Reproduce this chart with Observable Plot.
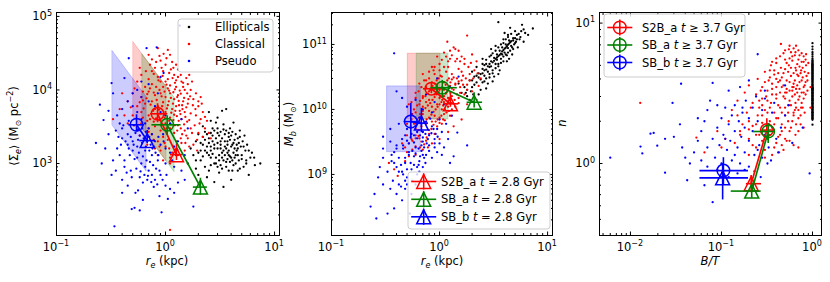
<!DOCTYPE html>
<html><head><meta charset="utf-8">
<script src="https://cdn.jsdelivr.net/npm/d3@7"></script>
<script src="https://cdn.jsdelivr.net/npm/@observablehq/plot@0.6"></script>
<style>
body{margin:0;background:#fff;}
#fig{position:relative;width:830px;height:282px;}
#fig svg{position:absolute;top:0;overflow:visible;}
</style></head><body><div id="fig"></div>
<script>
// ---------------- DATA ----------------
const modelNames = ["S2B_a", "SB_a", "SB_b"];
const modelColors = ["#ff0000", "#008000", "#0000ff"];
const popNames = ["Ellipticals", "Classical", "Pseudo"];
const popColors = ["#000000", "#ff0000", "#0000ff"];

// shaded regions (r_e range, M_b range) per model
const regionReLo = [0.508, 0.615, 0.327];
const regionReHi = [1.02, 1.21, 0.67];
const regionMLo = [7.0e9, 7.0e9, 2.2e9];
const regionMHi = [7.2e10, 7.2e10, 2.26e10];

// Panel 1: r_e vs <Sigma_e>
const p1EllA = [[2.0,2500],[2.2,1800],[2.5,2200],[2.7,3000],[3.0,2600],[3.2,2000],[3.5,1700],[3.8,2300],[4.2,1900],[4.5,1500],[2.4,1400],[2.8,1600],[3.1,1300],[3.4,1100],[3.7,1400],[4.0,1200],[4.4,1000],[5.0,1300],[5.5,1100],[6.2,1400],[7.4,1000],[6.6,950],[2.1,1100],[2.3,900],[2.6,1200],[2.9,1000],[3.3,850],[3.6,900],[4.1,800],[4.8,850],[5.2,900],[2.0,700],[2.4,650],[3.4,480],[2.8,560],[4.0,600],[5.8,700],[1.8,1300],[1.9,2000],[2.2,3200],[2.6,3800],[3.0,4200],[3.6,5500],[3.3,5200],[2.5,5000],[4.2,3600],[4.8,2800],[5.3,2400],[5.6,1800],[4.6,2200],[3.9,3000],[3.4,3400],[2.9,3600],[2.3,2700],[1.7,1600],[1.6,1000],[2.1,1500],[2.7,2000],[3.2,1600],[3.7,2000],[4.3,1600],[4.9,1700],[5.1,2000],[3.0,1900],[3.5,2500],[4.1,2700],[2.6,1700],[3.8,1300],[4.6,1300],[5.4,1500],[6.0,1200],[3.3,1200],[2.2,1250],[1.9,850],[2.5,800],[3.1,750],[3.9,1050],[4.5,1800]];
const p1EllB = [[2.3,2100],[2.5,1900],[2.7,2400],[2.9,2200],[3.1,2400],[3.3,2200],[3.5,2000],[3.7,1800],[3.9,2100],[4.1,1800],[4.3,2100],[4.7,1900],[2.4,1700],[2.6,1500],[2.8,1800],[3.0,1600],[3.2,1800],[3.4,1500],[3.6,1600],[3.8,1500],[4.0,1700],[4.2,1400],[4.4,1300],[4.6,1600],[2.5,1300],[2.7,1350],[2.9,1200],[3.1,1100],[3.3,1400],[3.5,1300],[3.7,1150],[3.9,1250],[4.1,1100],[4.3,1200],[4.7,1100],[5.0,1150],[2.3,1500],[2.1,1900],[2.0,1400],[1.9,1100],[2.2,2300],[2.4,2500],[2.6,2600],[2.8,2800],[3.0,3000],[3.2,2700],[3.4,2900],[3.6,2800],[3.8,2600],[4.0,2400],[4.4,2500],[4.8,2300],[5.2,1700],[5.8,1500],[6.5,1200],[2.8,1000],[3.0,900],[3.6,1050],[4.2,950],[3.2,950],[2.6,950],[5.5,1000],[3.8,800],[4.6,800]];
const p1ClaA = [[0.75,12000],[0.85,15000],[0.95,18000],[1.05,14000],[1.2,16000],[1.3,19000],[0.8,20000],[0.9,25000],[1.0,22000],[1.15,24000],[1.4,13000],[1.6,12000],[0.7,30000],[0.85,37000],[1.1,30000],[1.25,11000],[0.65,11000],[0.55,13000],[1.75,13000],[0.95,11000],[1.05,10500],
[0.5,9000],[0.6,8000],[0.7,9500],[0.8,8500],[0.9,9000],[1.0,8000],[1.1,9000],[1.2,7500],[1.3,8500],[1.45,7000],[1.6,6500],[1.8,7500],[2.0,6000],[0.55,6000],[0.65,6500],[0.75,7000],[0.85,6000],[0.95,6800],[1.05,6200],[1.15,5500],[1.25,6000],[1.35,5200],[1.5,5000],[1.7,4800],[1.9,4500],[2.2,5000],[0.6,5000],[0.7,4500],[0.8,5500],[0.9,4800],[1.0,5000],[1.1,4200],[1.2,4600],[1.4,4000],[0.5,4500],[0.45,7000],[0.4,9000],[0.38,5500],
[0.6,3500],[0.7,3000],[0.8,3200],[0.9,2800],[1.0,3500],[1.1,3000],[1.2,2600],[1.3,3300],[1.5,2800],[1.7,3000],[2.0,2600],[2.3,3000],[0.65,2200],[0.75,2500],[0.85,2000],[0.95,2300],[1.05,2100],[1.25,2000],[1.4,1900],[1.6,2200],[1.8,1800],[0.8,1600],[0.9,1500],[1.0,1700],[1.15,1400],[1.3,1300],[1.5,1500],[0.55,2800],[0.45,3500],[0.33,4000],[1.1,1200],[0.95,1100],[2.6,2200],[2.1,4000],[1.65,3900],[1.1,125],
[1.35,9800],[1.5,10000],[0.6,16000],[0.75,18000],[0.9,13000],[1.25,13500],[1.1,11500],[1.9,9000],[2.1,8000],[1.7,10000]];
const p1ClaB = [[0.62,7200],[0.68,8800],[0.72,10500],[0.78,9200],[0.82,11000],[0.88,10000],[0.92,8200],[0.98,9500],[1.02,11800],[1.08,9800],[1.12,7800],[1.18,9300],[1.22,10200],[1.28,8000],[1.32,7100],[1.38,8900],[1.42,6200],[1.48,7800],[1.55,5800],[1.62,7500],
[0.58,6800],[0.63,5600],[0.67,7700],[0.73,6300],[0.77,5200],[0.83,7300],[0.87,5400],[0.93,6000],[0.97,4600],[1.03,5600],[1.07,7000],[1.13,4900],[1.17,6500],[1.23,5200],[1.27,4400],[1.33,6200],[1.37,4700],[1.43,5500],[1.52,4300],[1.58,3700],
[0.62,4200],[0.68,3800],[0.72,4000],[0.78,3700],[0.82,4100],[0.88,3900],[0.92,3300],[0.98,4200],[1.02,3000],[1.08,3800],[1.12,3400],[1.18,3900],[1.22,3300],[1.28,2800],[1.32,3800],[1.38,3000],[1.42,2500],[1.48,3400],[1.55,2400],[1.75,2600],
[0.7,14000],[0.78,16500],[0.86,13500],[0.94,15500],[1.0,13000],[1.08,17000],[1.16,14500],[1.22,12500],[1.3,15000],[1.45,11000],[0.66,18000],[0.72,22000],[0.82,24000],[0.92,20000],[1.02,27000],[0.96,31000],[1.18,20000],[1.38,16000],[0.58,20000],[0.62,9500],
[0.52,10500],[0.48,5800],[0.42,4500],[0.52,3300],[0.58,2400],[0.68,1800],[0.78,2100],[0.88,1700],[0.98,1900],[1.08,1600],[1.18,1700],[1.28,1550],[1.38,2200],[1.52,1900],[1.65,1700],[1.95,2100],[2.2,2300],[1.85,3300],[2.05,3500],[2.4,3800],
[1.58,9000],[1.68,8200],[1.78,6200],[1.88,5500],[2.0,7000],[2.15,6500],[1.45,12500],[1.55,14500],[1.65,16000],[1.25,22000],[1.12,19000],[0.75,26000],[0.88,29000],[1.05,35000],[2.3,4300],[2.5,2600],[1.95,1500],[1.1,1000],[0.85,1300],[0.7,2700]];
const p1PseA = [[0.23,1900],[0.26,1000],[0.25,6300],[0.27,3900],[0.32,12400],[0.42,14500],[0.46,27000],[0.67,37000],[0.83,38000],[1.35,75000],[0.96,17000],[0.9,15000],
[0.34,140],[0.49,240],[0.52,250],[0.58,230],[0.92,217],[1.8,260],[0.56,430],[0.53,400],[0.62,550],[0.45,500],[0.4,600],[0.35,800],[0.33,1100],[0.38,1300],[0.3,2500],[0.35,2800],[0.4,2200],[0.45,1800],[0.5,1500],[0.55,1200],[0.6,1000],[0.65,900],[0.7,800],[0.75,700],[0.8,600],[0.9,700],[1.0,500],[1.1,450],[1.2,400],[1.3,550],[1.5,600],[1.4,800],[1.2,900],[1.0,1000],[0.85,1100],[0.75,1300],[0.65,1500],[0.55,1700],[0.5,2000],[0.45,2500],[0.4,3000],[0.38,3500],[0.36,4500],[0.4,5500],[0.45,7000],[0.5,6000],[0.55,5000],[0.6,4000],[0.65,3500],[0.7,3000],[0.75,2500],[0.8,2000],[0.9,1800],[1.0,1600],[1.1,1400],[1.2,1700],[1.3,2000],[1.5,1300],[0.5,9000],[0.55,10000],[0.6,8000],[0.7,7000],[0.8,6000],[0.9,5000],[1.0,4500],[1.1,3500],[0.7,12000],[0.6,13000],[0.85,9000],[0.3,5200],[0.33,9000],[0.28,1600],[0.32,700],[0.42,900],[0.48,800],[0.58,650],[0.68,600],[0.78,480],[0.88,360],[1.05,330],[0.62,320],[0.4,400],[0.36,1600],[1.6,3000],[1.4,4000],[0.95,2500]];
const p1PseB = [[0.42,1100],[0.47,1300],[0.52,1150],[0.57,1400],[0.62,1250],[0.67,1100],[0.72,1050],[0.77,950],[0.82,850],[0.46,1600],[0.51,1800],[0.56,2100],[0.61,1900],[0.66,1700],[0.71,1500],[0.76,1600],[0.81,1400],[0.86,1300],[0.43,2000],[0.48,2300],[0.53,2600],[0.58,2400],[0.63,2200],[0.68,2000],[0.73,1800],[0.78,1700],[0.44,750],[0.49,650],[0.54,850],[0.59,780],[0.64,700],[0.69,680],[0.74,560],[0.84,520],[0.94,600],[1.02,700],[0.39,1800],[0.37,2300],[0.41,3300],[0.46,3800],[0.51,3300],[0.56,2900],[0.61,3000],[0.66,2700],[0.71,2300],[0.86,2300],[0.96,2000],[1.15,1100],[1.25,1300],[0.88,800]];

// Panel 2: r_e vs M_b
const p2EllA = [[1.6,1.8e10],[1.7,2.2e10],[1.8,1.6e10],[1.9,2.8e10],[2.0,2.2e10],[2.1,3.2e10],[2.2,2.6e10],[2.3,3.6e10],[2.4,2.9e10],[2.5,4.2e10],[2.6,3.3e10],[2.7,5e10],[2.8,3.8e10],[2.9,4.5e10],[3.0,5.5e10],[3.1,4e10],[3.2,6.2e10],[3.3,5e10],[3.4,7e10],[3.5,4.6e10],[3.6,8e10],[3.7,6e10],[3.8,9e10],[3.9,5.5e10],[4.0,7.5e10],[4.1,1e11],[4.2,6.8e10],[4.3,8.8e10],[4.4,1.15e11],[4.6,9.5e10],[4.8,1.25e11],[5.0,1.05e11],[5.2,1.4e11],[5.5,1.2e11],[5.8,2e11],[6.2,1.5e11],[6.6,1.4e11],[7.3,1.76e11],[3.5,2.2e11],[4.5,1.8e11],[4.0,1.5e11],[3.0,8.5e10],[2.5,6e10],[2.2,4.5e10],[1.9,1.4e10],[2.4,2e10],[2.8,2.5e10],[3.2,3.2e10],[3.6,4e10],[4.2,5.5e10],[4.7,7e10],[5.3,9e10],[1.5,2.5e10],[2.0,3.8e10],[2.6,4.8e10],[3.3,9.5e10],[3.9,1.2e11],[5.0,1.6e11],[6.0,1.1e11],[2.3,1.7e10],[2.7,2.1e10],[3.1,2.7e10],[3.5,3.5e10],[4.4,6e10],[3.0,6.8e10],[3.4,5.8e10],[2.9,3.1e10],[2.1,2.4e10],[1.8,2e10],[4.8,8.5e10],[5.6,1.3e11],[3.8,7e10],[4.3,1.3e11],[2.6,2.7e10]];
const p2EllB = [[2.3,3.1e10],[2.4,3.5e10],[2.5,3.6e10],[2.6,4e10],[2.7,4.1e10],[2.8,4.6e10],[2.9,5e10],[3.0,4.6e10],[3.1,5.3e10],[3.2,5.6e10],[3.3,6e10],[3.4,6.3e10],[3.5,6.6e10],[3.6,6.9e10],[3.7,7.2e10],[3.8,7.8e10],[3.9,8.2e10],[4.0,8.6e10],[4.1,8.9e10],[4.2,9.4e10],[4.3,9.9e10],[4.4,1.03e11],[4.5,1.08e11],[4.6,1.12e11],[4.8,1.15e11],[5.0,1.25e11],[5.2,1.2e11],[5.4,1.45e11],[5.7,1.6e11],[6.0,1.7e11],
[2.5,5e10],[2.7,5.8e10],[2.9,6.5e10],[3.1,7.3e10],[3.3,8e10],[3.5,9e10],[3.7,1e11],[3.9,1.05e11],[4.1,1.2e11],[4.3,1.4e11],[2.5,2.6e10],[2.7,3e10],[2.9,3.5e10],[3.1,3.6e10],[3.3,4.3e10],[3.5,5e10],[3.7,5.2e10],[3.9,6.5e10],[4.1,7e10],[4.3,7.5e10],[4.5,8e10],[4.7,9e10],[4.9,1e11],[5.1,1.1e11],[2.0,2.8e10],[2.2,3.3e10],[1.95,1.9e10],[1.75,1.8e10],[2.05,1.7e10],[4.6,1.45e11]];
const p2ClaA = [[1.8,1.37e11],[1.18,1.1e11],[1.35,9e10],[1.5,8e10],[1.1,7.5e10],[0.95,6.5e10],[1.25,6e10],[1.6,6.5e10],[2.0,7e10],[1.4,5.5e10],[1.0,5e10],[0.85,4.5e10],[1.2,4.5e10],[1.7,5e10],[2.2,5.5e10],[1.5,4.2e10],
[0.7,3.5e10],[0.8,3e10],[0.9,3.5e10],[1.05,3.2e10],[1.15,3.8e10],[1.3,3.5e10],[1.45,3e10],[1.65,3.3e10],[1.9,3.5e10],[2.1,4e10],[0.65,2.5e10],[0.75,2.2e10],[0.85,2.6e10],[0.95,2.4e10],[1.1,2.6e10],[1.25,2.3e10],[1.4,2.5e10],[1.55,2.2e10],[1.8,2.4e10],[2.4,3e10],[0.6,1.8e10],[0.7,1.6e10],[0.8,1.9e10],[0.9,1.7e10],[1.0,1.5e10],[1.15,1.8e10],[1.3,1.6e10],[1.5,1.5e10],[1.7,1.7e10],[2.0,1.9e10],
[0.55,1.3e10],[0.65,1.2e10],[0.75,1.3e10],[0.85,1.1e10],[0.95,1.2e10],[1.05,1e10],[1.2,1.1e10],[1.4,1.1e10],[0.6,9e9],[0.7,8.5e9],[0.8,9.5e9],[0.9,8e9],[1.0,7.5e9],[1.1,8.5e9],[1.25,8e9],[0.55,7e9],[0.65,6.5e9],[0.75,6e9],[0.85,6.5e9],[0.95,5.5e9],[1.05,6e9],[0.6,5e9],[0.7,4.5e9],[0.8,4.8e9],[0.9,4.2e9],[0.5,4e9],[0.55,3.5e9],[0.65,3.6e9],[0.75,3.3e9],[0.85,3e9],[0.6,2.7e9],[0.7,2.4e9],[0.5,2.2e9],[0.45,3e9],[0.41,9.5e8],[0.34,1.5e9],[0.38,1.2e9],[0.48,1.6e9],[1.0,3.5e9],[1.2,4.5e9],[1.35,5.5e9],[1.6,7e9],[1.8,1.2e10],[2.2,1.4e10],
[0.8,1.4e10],[0.9,2.1e10],[1.0,2e10],[1.1,1.3e10],[1.2,1.5e10],[0.7,1.1e10],[0.65,7.5e9],[0.75,2.8e10],[1.35,2e10],[1.6,2.8e10]];
const p2ClaB = [[0.58,1e10],[0.62,1.15e10],[0.66,1.35e10],[0.7,1.5e10],[0.74,1.6e10],[0.78,1.75e10],[0.82,2e10],[0.86,2.3e10],[0.9,2.5e10],[0.94,2.8e10],[0.98,3e10],[1.02,3.3e10],[1.06,2.2e10],[1.1,2e10],[1.14,2.4e10],[1.18,2.8e10],[1.22,3e10],[1.26,2.6e10],[1.3,2.9e10],[1.35,3.1e10],
[0.58,6e9],[0.62,7e9],[0.66,8.5e9],[0.7,9.5e9],[0.74,1.05e10],[0.78,1.15e10],[0.82,1.25e10],[0.86,1.4e10],[0.9,1.55e10],[0.94,1.7e10],[0.98,1.85e10],[1.02,1.6e10],[1.06,1.4e10],[1.1,1.6e10],[1.14,1.75e10],[1.18,1.9e10],[1.22,2.1e10],[1.26,1.8e10],[1.3,2.1e10],[1.4,2.4e10],
[0.6,4e9],[0.64,4.8e9],[0.68,5.5e9],[0.72,6.3e9],[0.76,7e9],[0.8,7.5e9],[0.84,8.3e9],[0.88,9.2e9],[0.92,1e10],[0.96,1.1e10],[1.0,1.2e10],[1.04,1.3e10],[1.08,1.15e10],[1.12,1e10],[1.16,1.2e10],[1.2,1.3e10],[1.25,1.4e10],[1.3,1.25e10],[1.38,1.4e10],[1.45,1.7e10],
[0.52,3e9],[0.56,3.3e9],[0.6,3.6e9],[0.64,3.9e9],[0.68,3.2e9],[0.72,2.9e9],[0.76,3.7e9],[0.8,4.2e9],[0.84,5e9],[0.88,5.8e9],[0.92,6.5e9],[0.96,7e9],[1.0,6.2e9],[1.04,8e9],[1.08,7e9],[1.12,6.8e9],[1.16,9e9],[1.22,9.5e9],[1.3,1e10],[1.5,1.25e10],
[0.9,4.5e10],[1.0,4e10],[1.1,4.5e10],[1.2,5.5e10],[1.3,6.8e10],[1.45,6e10],[1.55,5.5e10],[1.7,6e10],[1.85,4.5e10],[1.95,5.2e10],[1.6,3.8e10],[1.75,3e10],[1.9,2.8e10],[2.05,3e10],[2.25,3.6e10],[1.5,2.7e10],[1.65,2.4e10],[1.8,2e10],[1.55,1.8e10],[2.3,2.3e10],
[0.48,2.6e9],[0.52,1.9e9],[0.56,2.4e9],[0.6,2e9],[0.66,2.6e9],[0.78,2.6e9],[0.54,5.5e9],[0.5,6e9],[0.56,8.5e9],[0.52,1.2e10],[0.6,1.5e10],[0.64,1.9e10],[0.68,2.2e10],[0.72,2.8e10],[0.8,3.8e10],[0.88,4e10],[1.05,5.8e10],[1.15,6.5e10],[1.4,8.5e10],[1.25,8e10]];
const p2PseA = [[0.38,7.3e10],[0.23,3.2e8],[0.26,2.1e8],[0.3,1.8e9],[1.8,2.8e9],[1.35,1.9e9],[1.46,4.4e9],[0.33,2.5e8],[0.38,3e8],[0.53,2.5e8],[0.45,4e8],[0.4,5e8],[0.35,6e8],[0.3,7e8],[0.27,9e8],[0.33,1.1e9],[0.37,8e8],[0.42,7e8],[0.48,6e8],[0.55,5e8],[0.6,7e8],[0.5,9e8],[0.45,1.1e9],[0.4,1.3e9],[0.36,1.6e9],[0.42,1.8e9],[0.48,1.5e9],[0.55,1.2e9],[0.62,1e9],[0.7,1.3e9],[0.65,1.6e9],[0.58,1.9e9],[0.52,2.2e9],[0.46,2.5e9],[0.4,2.8e9],[0.35,3.2e9],[0.3,3.8e9],[0.45,3.5e9],[0.52,3e9],[0.6,2.6e9],[0.68,2.3e9],[0.75,2e9],[0.85,1.8e9],[0.95,2.2e9],[0.8,2.8e9],[0.7,3.2e9],[0.62,3.6e9],[0.55,4.2e9],[0.5,5e9],[0.6,5.5e9],[0.7,4.5e9],[0.8,4e9],[0.9,3.5e9],[1.0,3e9],[1.1,2.6e9],[1.2,3.5e9],[1.05,4.5e9],[0.95,5e9],[0.85,5.5e9],[0.75,6.5e9],[0.65,7.5e9],[0.55,8.5e9],[0.5,1.1e10],[0.7,1e10],[0.85,9e9],[1.0,7e9],[1.15,6e9],[1.3,8e9],[0.45,1.5e10],[0.6,1.4e10],[0.75,1.7e10],[0.9,1.3e10],[1.1,1.2e10],[1.25,2.2e10],[1.5,3.2e10],[0.95,3e10],[0.4,1.9e10],[0.42,6e9],[0.35,5e9],[0.3,2.5e9],[0.28,1.3e9],[0.25,5e8],[0.5,7e8],[0.65,1.1e9],[0.72,1.8e9],[0.9,2.6e9],[1.25,1.5e9],[0.58,3.1e9],[0.48,4e9],[0.78,3.5e9],[0.38,2.2e9],[0.68,6e9],[0.82,7.2e9]];
const p2PseB = [[0.44,1.4e9],[0.48,1.8e9],[0.52,2e9],[0.56,2.3e9],[0.6,2.1e9],[0.64,2.5e9],[0.68,2.8e9],[0.72,2.6e9],[0.76,3e9],[0.46,2.8e9],[0.5,3.3e9],[0.54,3.7e9],[0.58,4e9],[0.62,4.5e9],[0.66,4e9],[0.7,3.7e9],[0.74,4.2e9],[0.84,4.3e9],[0.88,5e9],[0.42,1.1e9],[0.46,1e9],[0.5,1.2e9],[0.54,1.5e9],[0.58,1.4e9],[0.62,1.3e9],[0.66,1.9e9],[0.7,2e9],[0.8,2.3e9],[0.9,3e9],[0.96,3.8e9],[0.38,1.5e9],[0.36,2e9],[0.4,2.5e9],[0.44,6.5e8],[0.48,8e8],[0.56,8e8],[0.64,1.4e9],[0.74,1.5e9],[1.05,2e9],[0.92,4.2e9]];

// Panel 3: B/T vs n
const ellipticalBT = 1;
const p3EllN = [1.89,2.05,2.08,2.1,2.12,2.15,2.18,2.2,2.22,2.25,2.28,2.3,2.32,2.33,2.38,2.4,2.42,2.45,2.48,2.5,2.52,2.55,2.58,2.62,2.65,2.68,2.7,2.72,2.78,2.8,2.82,2.85,2.88,2.9,2.92,2.97,3.0,3.02,3.05,3.08,3.12,3.15,3.18,3.2,3.22,3.27,3.3,3.32,3.36,3.38,3.4,3.42,3.45,3.48,3.5,3.55,3.6,3.65,3.68,3.75,3.8,3.85,3.9,3.95,4.0,4.05,4.1,4.15,4.2,4.25,4.3,4.35,4.4,4.45,4.5,4.55,4.6,4.65,4.7,4.75,4.8,4.85,4.9,4.95,5.0,5.05,5.1,5.15,5.25,5.3,5.4,5.45,5.6,5.8,6.0,6.2,6.5,6.8,7.2];
const p3ClaA = [[0.45,7.1],[0.55,6.5],[0.65,6.2],[0.6,5.8],[0.7,5.5],[0.8,5.8],[0.5,5.5],[0.4,5.2],[0.35,5],[0.45,4.8],[0.55,5],[0.65,4.8],[0.75,4.6],[0.85,5],[0.3,4.5],[0.38,4.3],[0.48,4.4],[0.58,4.2],[0.68,4.3],[0.78,4.1],[0.9,4.4],[0.25,4],[0.33,3.9],[0.42,3.8],[0.52,3.9],[0.62,3.7],[0.72,3.8],[0.82,3.6],[0.2,3.6],[0.28,3.5],[0.36,3.4],[0.46,3.5],[0.56,3.3],[0.66,3.4],[0.76,3.2],[0.88,3.3],[0.18,3.2],[0.24,3.1],[0.31,3],[0.4,3.1],[0.5,2.9],[0.6,3],[0.7,2.85],[0.8,2.9],[0.15,2.8],[0.22,2.7],[0.28,2.6],[0.35,2.7],[0.44,2.5],[0.54,2.6],[0.64,2.4],[0.75,2.5],[0.13,2.4],[0.19,2.3],[0.25,2.2],[0.32,2.3],[0.4,2.1],[0.5,2.2],[0.6,2],[0.7,2.1],[0.12,2],[0.17,1.9],[0.22,1.85],[0.28,1.95],[0.36,1.8],[0.46,1.9],[0.56,1.7],[0.16,1.6],[0.2,1.5],[0.26,1.6],[0.32,1.5],[0.42,1.55],[0.52,1.45],[0.14,1.4],[0.24,1.3],[0.38,1.3],[0.48,1.25],[0.11,1.5],[0.09,1.7],[0.053,1.53],[0.0128,2.7],[0.065,1.2],[0.1,1.3],[0.2,1.15],[0.3,1.1],[0.43,1.2],[0.65,1.6],[0.8,1.8],[0.95,2.5],[0.95,3.5],[0.34,4.6],[0.27,3.3],[0.21,2.5],[0.62,3.5],[0.5,3.2],[0.72,4.9],[0.58,6.2],[0.85,6],[0.4,4],[0.65,2.7],[0.15,2.2],[0.7,1.3]];
const p3ClaB = [[0.3,3.8],[0.34,4.1],[0.38,4.6],[0.42,4.4],[0.46,4.1],[0.5,4.7],[0.54,4.5],[0.58,4.8],[0.62,4.4],[0.66,4.6],[0.7,4.2],[0.74,4.4],[0.78,4.8],[0.82,4.5],[0.86,4.2],[0.32,3.3],[0.36,3.7],[0.4,3.5],[0.44,3.9],[0.48,3.6],[0.52,3.4],[0.56,3.8],[0.6,3.5],[0.64,3.9],[0.68,3.6],[0.72,3.4],[0.76,3.9],[0.8,3.5],[0.84,3.8],[0.88,3.9],
[0.28,2.9],[0.32,2.8],[0.36,3.1],[0.4,2.9],[0.44,3.2],[0.48,3],[0.52,3.2],[0.56,2.8],[0.6,3.3],[0.64,3.1],[0.68,3.2],[0.72,3],[0.76,2.7],[0.8,3.2],[0.84,3.1],[0.26,2.5],[0.3,2.4],[0.34,2.5],[0.38,2.3],[0.42,2.6],[0.46,2.3],[0.5,2.5],[0.54,2.3],[0.58,2.6],[0.62,2.3],[0.66,2.5],[0.7,2.4],[0.74,2.2],[0.78,2.5],[0.82,2.3],
[0.36,5.3],[0.4,5.6],[0.44,5.8],[0.48,6.1],[0.52,5.2],[0.56,5.6],[0.6,5.4],[0.64,5.9],[0.68,5.1],[0.72,5.9],[0.76,5.3],[0.8,5.3],[0.84,5.5],[0.9,5.2],[0.62,6.6],[0.7,6.4],[0.76,6.1],[0.5,6.4],[0.56,6.9],[0.66,6.9],
[0.2,2],[0.24,1.9],[0.28,2.2],[0.3,1.7],[0.34,2],[0.38,1.9],[0.42,2.1],[0.46,1.7],[0.5,1.8],[0.54,2],[0.58,1.8],[0.62,2.2],[0.66,1.9],[0.7,1.7],[0.74,1.9],[0.16,1.7],[0.2,1.75],[0.24,1.6],[0.28,1.45],[0.34,1.6],[0.4,1.4],[0.44,1.6],[0.5,1.5],[0.56,1.45],[0.62,1.35],[0.22,1.35],[0.3,1.25],[0.36,1.15],[0.46,1.35],[0.26,2.8]];
const p3Pse = [[0.006,1.1],[0.0129,1.32],[0.0135,1.18],[0.0166,1.63],[0.018,1.65],[0.0197,1.34],[0.024,1.5],[0.024,0.86],[0.029,2.7],[0.03,1.55],[0.036,3.7],[0.037,1.3],[0.042,0.76],[0.04,1.1],[0.08,3.75],[0.08,0.53],[0.25,6],[0.93,0.85],[0.78,1.8],
[0.045,1.0],[0.05,1.2],[0.055,1.45],[0.06,1.7],[0.065,2.0],[0.07,2.4],[0.075,2.8],[0.06,1.05],[0.07,1.3],[0.08,1.5],[0.09,1.8],[0.1,2.1],[0.11,2.5],[0.085,1.1],[0.095,1.35],[0.105,1.6],[0.12,1.9],[0.13,2.2],[0.14,2.6],[0.1,1.0],[0.115,1.25],[0.125,1.45],[0.14,1.7],[0.155,2.0],[0.17,2.3],[0.185,2.8],[0.13,1.05],[0.15,1.3],[0.165,1.55],[0.18,1.8],[0.2,2.1],[0.22,2.5],[0.24,3],[0.16,1.0],[0.18,1.2],[0.2,1.45],[0.22,1.7],[0.25,2.0],[0.28,2.4],[0.3,2.9],[0.2,0.95],[0.23,1.15],[0.26,1.35],[0.3,1.6],[0.33,1.9],[0.36,2.3],[0.28,1.1],[0.33,1.3],[0.4,1.5],[0.45,1.8],[0.5,2.2],[0.12,3.3],[0.16,3.5],[0.2,3.9],[0.09,2.6],[0.055,2.1],[0.035,1.9],[0.15,0.85],[0.12,0.8],[0.09,0.9],[0.07,0.95],[0.35,1.05],[0.42,1.2],[0.6,1.4],[0.55,2.6],[0.38,2.7],[0.3,3.3],[0.5,3.6],[0.17,2.5],[0.11,1.5],[0.14,1.15],[0.25,1.25],[0.32,1.0],[0.065,0.7],[0.18,0.9],[0.23,0.88],[0.27,0.8]];

// Model tracks: circle (t >= 3.7 Gyr) and triangle (t = 2.8 Gyr); errors as [lo, hi]
const p1CircX = [0.845, 1.035, 0.542], p1CircXErr = [[0.73,1.05],[0.75,1.39],[0.46,0.64]];
const p1CircY = [4740, 3360, 3360],   p1CircYErr = [[3600,6500],[2400,4450],[2700,4600]];
const p1TriX = [1.26, 2.09, 0.679],   p1TriXErr = [[1.11,1.43],[1.8,2.42],[0.58,0.81]];
const p1TriY = [1320, 478, 2050],     p1TriYErr = [[1100,1860],[370,630],[1860,2800]];

const p2CircX = [0.84, 1.06, 0.542],  p2CircXErr = [[0.71,1.14],[0.83,1.46],[0.47,0.64]];
const p2CircY = [2.08e10, 2.16e10, 6.5e9], p2CircYErr = [[1.75e10,2.5e10],[1.5e10,2.8e10],[3.7e9,1.23e10]];
const p2TriX = [1.26, 2.09, 0.679],   p2TriXErr = [[1.1,1.5],[1.8,2.5],[0.6,0.79]];
const p2TriY = [1.22e10, 1.29e10, 6.16e9], p2TriYErr = [[1.08e10,1.8e10],[1.05e10,1.8e10],[4.4e9,1.04e10]];

const p3CircX = [0.315, 0.326, 0.105], p3CircXErr = [[0.28,0.39],[0.224,0.39],[0.058,0.198]];
const p3CircY = [1.73, 1.69, 0.89],    p3CircYErr = [[1.63,2.08],[1.39,1.92],[0.7,1.1]];
const p3TriX = [0.212, 0.215, 0.103],  p3TriXErr = [[0.188,0.275],[0.128,0.273],[0.058,0.198]];
const p3TriY = [0.718, 0.636, 0.79],   p3TriYErr = [[0.62,0.82],[0.565,0.73],[0.55,1.0]];

// axis ticks
const xTicksRe = [0.1, 1, 10];
const yTicksSigma = [1e3, 1e4, 1e5];
const yTicksMb = [1e9, 1e10, 1e11];
const xTicksBT = [0.01, 0.1, 1];
const yTicksN = [1, 10];

// ---------------- HELPERS ----------------
const FONT = "DejaVu Sans";
const FS = 11.5;
const expOf = d => String(Math.round(Math.log10(d))).replace("-", "−");
function minorTicks(domain) {
  const out = [];
  for (let e = Math.floor(Math.log10(domain[0])); e <= Math.ceil(Math.log10(domain[1])); e++)
    for (let k = 2; k <= 9; k++) { const v = k * Math.pow(10, e); if (v >= domain[0] && v <= domain[1]) out.push(v); }
  return out;
}
const inDomain = d => v => v >= d[0] * 0.999 && v <= d[1] * 1.001;
const triSymbol = {draw(ctx, size) { const s = Math.sqrt(size / Math.PI); ctx.moveTo(0, -s); ctx.lineTo(s, s); ctx.lineTo(-s, s); ctx.closePath(); }};

function axisMarks(xd, yd, xMaj, yMaj) {
  const xM = xMaj.filter(inDomain(xd)), yM = yMaj.filter(inDomain(yd));
  const xm = minorTicks(xd), ym = minorTicks(yd);
  const none = () => "";
  const o = {tickFormat: none, label: null};
  return [
    Plot.axisX(xM, {anchor: "bottom", tickSize: -3.5, ...o}),
    Plot.axisX(xm, {anchor: "bottom", tickSize: -2, ...o}),
    Plot.axisX(xM, {anchor: "top", tickSize: -3.5, ...o}),
    Plot.axisX(xm, {anchor: "top", tickSize: -2, ...o}),
    Plot.axisY(yM, {anchor: "left", tickSize: -3.5, ...o}),
    Plot.axisY(ym, {anchor: "left", tickSize: -2, ...o}),
    Plot.axisY(yM, {anchor: "right", tickSize: -3.5, ...o}),
    Plot.axisY(ym, {anchor: "right", tickSize: -2, ...o})
  ];
}

function scatterMarks(ell, cla, pse) {
  const pts = (arr, c) => Plot.dot(arr, {x: d => d[0], y: d => d[1], r: 1.15, fill: c, stroke: "none"});
  return [pts(ell, popColors[0]), pts(cla, popColors[1]), pts(pse, popColors[2])];
}

function trackMarks(cx, cxe, cy, cye, tx, txe, ty, tye) {
  const col = i => modelColors[i];
  const marks = [];
  for (const i of [0, 1, 2]) {
    const I = [i];
    marks.push(
      Plot.link(I, {x1: j => cx[j], y1: j => cy[j], x2: j => tx[j], y2: j => ty[j], stroke: col, strokeWidth: 1.7}),
      Plot.ruleY(I, {y: j => cy[j], x1: j => cxe[j][0], x2: j => cxe[j][1], stroke: col, strokeWidth: 1.6}),
      Plot.ruleX(I, {x: j => cx[j], y1: j => cye[j][0], y2: j => cye[j][1], stroke: col, strokeWidth: 1.6}),
      Plot.ruleY(I, {y: j => ty[j], x1: j => txe[j][0], x2: j => txe[j][1], stroke: col, strokeWidth: 1.6}),
      Plot.ruleX(I, {x: j => tx[j], y1: j => tye[j][0], y2: j => tye[j][1], stroke: col, strokeWidth: 1.6}),
      Plot.dot(I, {x: j => cx[j], y: j => cy[j], r: 6.3, symbol: "circle", fill: "none", stroke: col, strokeWidth: 1.5}),
      Plot.dot(I, {x: j => tx[j], y: j => ty[j], r: 7, symbol: triSymbol, fill: "none", stroke: col, strokeWidth: 1.5})
    );
  }
  return marks;
}

function rich(sel, x, y, parts, {anchor = "middle", rotate = 0, size = FS} = {}) {
  const t = sel.append("text").attr("x", x).attr("y", y).attr("text-anchor", anchor)
    .attr("font-size", size).attr("font-family", FONT).attr("fill", "black");
  if (rotate) t.attr("transform", `rotate(${rotate},${x},${y})`);
  let shift = 0;
  for (const p of parts) {
    const [s, o] = typeof p === "string" ? [p, {}] : p;
    const ts = t.append("tspan").text(s);
    if (o.italic) ts.attr("font-style", "italic");
    const target = o.sub ? size * 0.25 : o.sup ? -size * 0.4 : 0;
    if (target !== shift) { ts.attr("dy", target - shift); shift = target; }
    if (o.sub || o.sup) ts.attr("font-size", size * 0.7);
  }
  return t;
}

function makePanel({left, width, ml, mr, xd, yd, xMaj, yMaj, marks}) {
  const svg = Plot.plot({
    width, height: 282, marginLeft: ml, marginRight: mr, marginTop: 12, marginBottom: 47,
    style: {fontFamily: FONT, fontSize: FS + "px", background: "transparent", overflow: "visible", color: "black"},
    x: {type: "log", domain: xd},
    y: {type: "log", domain: yd},
    marks: [...marks, Plot.frame({stroke: "black", strokeWidth: 1}), ...axisMarks(xd, yd, xMaj, yMaj)]
  });
  svg.style.left = left + "px";
  document.getElementById("fig").appendChild(svg);
  const sel = d3.select(svg);
  const sx = svg.scale("x"), sy = svg.scale("y");
  for (const v of xMaj.filter(inDomain(xd))) rich(sel, sx.apply(v), 251, ["10", [expOf(v), {sup: true}]]);
  for (const v of yMaj.filter(inDomain(yd))) rich(sel, ml - 4, sy.apply(v) + 4.2, ["10", [expOf(v), {sup: true}]], {anchor: "end"});
  return sel;
}

function legendBox(sel, x, y, w, h) {
  sel.append("rect").attr("x", x).attr("y", y).attr("width", w).attr("height", h).attr("rx", 3)
    .attr("fill", "white").attr("fill-opacity", 0.8).attr("stroke", "#cccccc").attr("stroke-width", 1);
}
function legendHandle(sel, cx, cy, color, kind) {
  const g = sel.append("g").attr("stroke", color).attr("fill", "none").attr("stroke-width", 1.6);
  g.append("line").attr("x1", cx - 12.5).attr("x2", cx + 12.5).attr("y1", cy).attr("y2", cy);
  g.append("line").attr("x1", cx).attr("x2", cx).attr("y1", cy - 8).attr("y2", cy + 8);
  if (kind === "circle") g.append("circle").attr("cx", cx).attr("cy", cy).attr("r", 6.3).attr("stroke-width", 1.5);
  else g.append("path").attr("d", `M${cx},${cy - 7}L${cx + 7},${cy + 7}L${cx - 7},${cy + 7}Z`).attr("stroke-width", 1.5);
}

// ---------------- PANELS ----------------
const twoPiPc2 = r => 2 * Math.PI * Math.pow(r * 1000, 2); // r in kpc -> 2*pi*r^2 in pc^2
const p1Regions = [];
for (let i = 0; i < 3; i++) {
  for (const r of [regionReLo[i], regionReHi[i]])
    p1Regions.push({k: i, r, lo: regionMLo[i] / twoPiPc2(r), hi: regionMHi[i] / twoPiPc2(r), c: modelColors[i]});
}
const regionRects = [0, 1, 2].map(i => ({x1: regionReLo[i], x2: regionReHi[i], y1: regionMLo[i], y2: regionMHi[i], c: modelColors[i]}));

// Panel 1
const s1 = makePanel({
  left: 0, width: 282, ml: 56, mr: 3, xd: [0.1, 11.1], yd: [105, 1.13e5], xMaj: xTicksRe, yMaj: yTicksSigma,
  marks: [
    Plot.areaY(p1Regions, {x: "r", y1: "lo", y2: "hi", z: "k", fill: "c", fillOpacity: 0.2, stroke: "c", strokeOpacity: 0.2}),
    ...scatterMarks([...p1EllA, ...p1EllB], [...p1ClaA, ...p1ClaB], [...p1PseA, ...p1PseB]),
    ...trackMarks(p1CircX, p1CircXErr, p1CircY, p1CircYErr, p1TriX, p1TriXErr, p1TriY, p1TriYErr)
  ]
});
// Panel 2
const L2 = 282;
const s2 = makePanel({
  left: L2, width: 273, ml: 49, mr: 3, xd: [0.1, 11.1], yd: [1.15e8, 3.1e11], xMaj: xTicksRe, yMaj: yTicksMb,
  marks: [
    Plot.rect(regionRects, {x1: "x1", x2: "x2", y1: "y1", y2: "y2", fill: "c", fillOpacity: 0.2, stroke: "c", strokeOpacity: 0.2}),
    ...scatterMarks([...p2EllA, ...p2EllB], [...p2ClaA, ...p2ClaB], [...p2PseA, ...p2PseB]),
    ...trackMarks(p2CircX, p2CircXErr, p2CircY, p2CircYErr, p2TriX, p2TriXErr, p2TriY, p2TriYErr)
  ]
});
// Panel 3
const L3 = 555;
const s3 = makePanel({
  left: L3, width: 275, ml: 44, mr: 9, xd: [0.00457, 1.256], yd: [0.307, 11.9], xMaj: xTicksBT, yMaj: yTicksN,
  marks: [
    ...scatterMarks(p3EllN.map(n => [ellipticalBT, n]), [...p3ClaA, ...p3ClaB], p3Pse),
    ...trackMarks(p3CircX, p3CircXErr, p3CircY, p3CircYErr, p3TriX, p3TriXErr, p3TriY, p3TriYErr)
  ]
});

// ---------------- AXIS LABELS ----------------
rich(s1, 167, 265, [["r", {italic: true}], ["e", {italic: true, sub: true}], " (kpc)"]);
rich(s1, 18, 126, ["⟨Σ", ["e", {italic: true, sub: true}], "⟩ (M", ["⊙", {sub: true}], " pc", ["−2", {sup: true}], ")"], {rotate: -90});
rich(s2, 442 - L2, 265, [["r", {italic: true}], ["e", {italic: true, sub: true}], " (kpc)"]);
rich(s2, 293 - L2, 124, [["M", {italic: true}], ["b", {italic: true, sub: true}], " (M", ["⊙", {sub: true}], ")"], {rotate: -90});
rich(s3, 710 - L3, 264.5, [["B/T", {italic: true}]]);
rich(s3, 566 - L3, 123, [["n", {italic: true}]], {rotate: -90});

// ---------------- LEGENDS ----------------
legendBox(s1, 178, 19, 95, 53);
[27, 44, 61].forEach((y, i) => {
  s1.append("circle").attr("cx", 189).attr("cy", y).attr("r", 1.3).attr("fill", popColors[i]);
  rich(s1, 215, y + 4, [popNames[i]], {anchor: "start"});
});
legendBox(s2, 408 - L2, 172, 142, 57);
[181.5, 199.3, 216.8].forEach((y, i) => {
  legendHandle(s2, 423.7 - L2, y, modelColors[i], "triangle");
  rich(s2, 441 - L2, y + 4, [modelNames[i] + " ", ["t", {italic: true}], " = 2.8 Gyr"], {anchor: "start"});
});
legendBox(s3, 604 - L3, 14, 141, 63);
[27.5, 45, 62.5].forEach((y, i) => {
  legendHandle(s3, 619.8 - L3, y, modelColors[i], "circle");
  rich(s3, 642 - L3, y + 4, [modelNames[i] + " ", ["t", {italic: true}], " ≥ 3.7 Gyr"], {anchor: "start"});
});
</script></body></html>
